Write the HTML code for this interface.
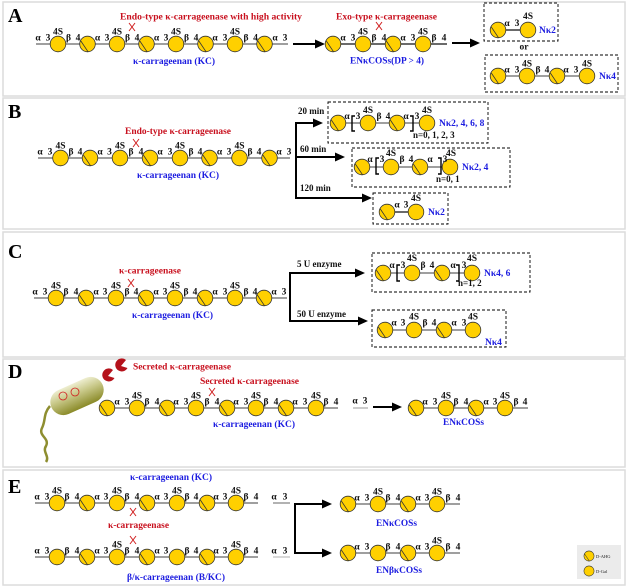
<!DOCTYPE html>
<html><head><meta charset="utf-8">
<style>
html,body{margin:0;padding:0;background:#fff;}
svg{display:block;}
.l{font:bold 9.5px "Liberation Serif",serif;text-anchor:middle;fill:#111;}
.s{font:bold 9px "Liberation Serif",serif;fill:#111;}
.r{font:bold 9.5px "Liberation Serif",serif;fill:#c8101e;}
.b{font:bold 9.5px "Liberation Serif",serif;fill:#1c1ce0;}
.P{font:bold 20px "Liberation Serif",serif;fill:#000;}
.bb{stroke:#666;stroke-width:1.2;fill:none;}
.dk{stroke:#111;stroke-width:1.2;fill:none;}
.ar{stroke:#000;stroke-width:2;fill:none;}
.bx{stroke:#000;stroke-width:0.9;stroke-dasharray:3,2;fill:none;}
.x{stroke:#d02020;stroke-width:1;}
.br{stroke:#000;stroke-width:1.4;fill:none;}
</style></head><body>
<svg width="630" height="587" viewBox="0 0 630 587" xmlns="http://www.w3.org/2000/svg">
<defs>
<g id="G"><circle r="7.8" fill="#FFD000" stroke="#333" stroke-width="0.8"/></g>
<g id="A"><circle r="7.8" fill="#FFD000" stroke="#333" stroke-width="0.8"/><path d="M-7,-3.5 L0.5,7.7" stroke="#333" stroke-width="0.8"/></g>
<g id="X"><path d="M-3,-4 L3,4 M3,-4 L-3,4" stroke="#d02020" stroke-width="1"/></g>
<linearGradient id="bac" x1="0" y1="1" x2="0" y2="0">
<stop offset="0" stop-color="#8a8a28"/><stop offset="0.6" stop-color="#c9c98a"/><stop offset="1" stop-color="#eeeed0"/></linearGradient>
</defs>

<!-- panel frames -->
<rect x="3" y="2" width="622" height="94" fill="none" stroke="#dcdcdc" stroke-width="1.5"/>
<rect x="3" y="98" width="622" height="131" fill="none" stroke="#dcdcdc" stroke-width="1.5"/>
<rect x="3" y="232" width="622" height="125" fill="none" stroke="#dcdcdc" stroke-width="1.5"/>
<rect x="3" y="359" width="622" height="108" fill="none" stroke="#dcdcdc" stroke-width="1.5"/>
<rect x="3" y="470" width="622" height="115" fill="none" stroke="#dcdcdc" stroke-width="1.5"/>

<!-- ================= PANEL A ================= -->
<text class="P" x="8" y="22">A</text>
<text class="r" x="120" y="19.5" textLength="182" lengthAdjust="spacingAndGlyphs">Endo-type κ-carrageenase with high activity</text>
<use href="#X" x="132" y="27"/>
<line class="bb" x1="36" y1="44" x2="288" y2="44"/>
<use href="#G" x="58" y="44"/><use href="#A" x="87.5" y="44"/><use href="#G" x="117" y="44"/><use href="#A" x="146.5" y="44"/>
<use href="#G" x="176" y="44"/><use href="#A" x="205.5" y="44"/><use href="#G" x="235" y="44"/><use href="#A" x="264.5" y="44"/>
<g class="l">
<text x="38" y="40.5">α</text><text x="48" y="40.5">3</text><text x="68.5" y="40.5">β</text><text x="78" y="40.5">4</text>
<text x="97.5" y="40.5">α</text><text x="107" y="40.5">3</text><text x="127.5" y="40.5">β</text><text x="137" y="40.5">4</text>
<text x="156.5" y="40.5">α</text><text x="166" y="40.5">3</text><text x="186.5" y="40.5">β</text><text x="196" y="40.5">4</text>
<text x="215" y="40.5">α</text><text x="225" y="40.5">3</text><text x="246" y="40.5">β</text><text x="255.5" y="40.5">4</text>
<text x="275" y="40.5">α</text><text x="285" y="40.5">3</text>
<text x="58" y="34.5">4S</text><text x="117" y="34.5">4S</text><text x="176" y="34.5">4S</text><text x="235" y="34.5">4S</text>
</g>
<text class="b" x="133" y="64" textLength="82" lengthAdjust="spacingAndGlyphs">κ-carrageenan (KC)</text>
<line class="ar" x1="293" y1="44" x2="318" y2="44"/><polygon points="325,44 315,39.5 315,48.5" fill="#000"/>

<text class="r" x="336" y="19.5" textLength="101" lengthAdjust="spacingAndGlyphs">Exo-type κ-carrageenase</text>
<use href="#X" x="379" y="26"/>
<line class="dk" x1="333" y1="44" x2="447" y2="44"/>
<use href="#A" x="333" y="44"/><use href="#G" x="363" y="44"/><use href="#A" x="393" y="44"/><use href="#G" x="423" y="44"/>
<g class="l">
<text x="343" y="40.5">α</text><text x="353" y="40.5">3</text><text x="374" y="40.5">β</text><text x="384" y="40.5">4</text>
<text x="403" y="40.5">α</text><text x="413" y="40.5">3</text><text x="434" y="40.5">β</text><text x="444" y="40.5">4</text>
<text x="363" y="34.5">4S</text><text x="423" y="34.5">4S</text>
</g>
<text class="b" x="350" y="63.5" textLength="74" lengthAdjust="spacingAndGlyphs">ENκCOSs(DP &gt; 4)</text>
<line class="ar" x1="452" y1="43" x2="473" y2="43"/><polygon points="480,43 470,38.5 470,47.5" fill="#000"/>

<rect class="bx" x="484" y="3" width="74" height="38"/>
<line class="dk" x1="498" y1="30" x2="528" y2="30"/>
<use href="#A" x="498" y="30"/><use href="#G" x="528" y="30"/>
<g class="l"><text x="507" y="26">α</text><text x="517" y="26">3</text><text x="528" y="19">4S</text></g>
<text class="b" x="539" y="33">Nκ2</text>
<text class="l" x="524" y="49.5">or</text>
<rect class="bx" x="485" y="55" width="133" height="37"/>
<line class="bb" x1="498" y1="76" x2="587" y2="76"/>
<use href="#A" x="498" y="76"/><use href="#G" x="527" y="76"/><use href="#A" x="557" y="76"/><use href="#G" x="587" y="76"/>
<g class="l"><text x="507" y="72.5">α</text><text x="517" y="72.5">3</text><text x="538" y="72.5">β</text><text x="547" y="72.5">4</text>
<text x="566" y="72.5">α</text><text x="576" y="72.5">3</text><text x="527" y="66.5">4S</text><text x="587" y="66.5">4S</text></g>
<text class="b" x="599" y="79">Nκ4</text>

<!-- ================= PANEL B ================= -->
<text class="P" x="8" y="118">B</text>
<text class="r" x="125" y="134" textLength="106" lengthAdjust="spacingAndGlyphs">Endo-type κ-carrageenase</text>
<use href="#X" x="136" y="143"/>
<line class="bb" x1="38" y1="158" x2="290" y2="158"/>
<use href="#G" x="60.5" y="158"/><use href="#A" x="90" y="158"/><use href="#G" x="120" y="158"/><use href="#A" x="150" y="158"/>
<use href="#G" x="180" y="158"/><use href="#A" x="209.5" y="158"/><use href="#G" x="239.5" y="158"/><use href="#A" x="269.5" y="158"/>
<g class="l">
<text x="40" y="154.5">α</text><text x="50" y="154.5">3</text><text x="71" y="154.5">β</text><text x="80" y="154.5">4</text>
<text x="100" y="154.5">α</text><text x="109.5" y="154.5">3</text><text x="131" y="154.5">β</text><text x="141" y="154.5">4</text>
<text x="160" y="154.5">α</text><text x="170" y="154.5">3</text><text x="191" y="154.5">β</text><text x="200" y="154.5">4</text>
<text x="219.5" y="154.5">α</text><text x="229" y="154.5">3</text><text x="250" y="154.5">β</text><text x="259" y="154.5">4</text>
<text x="279" y="154.5">α</text><text x="289" y="154.5">3</text>
<text x="60.5" y="148.5">4S</text><text x="120" y="148.5">4S</text><text x="180" y="148.5">4S</text><text x="239.5" y="148.5">4S</text>
</g>
<text class="b" x="137" y="178" textLength="82" lengthAdjust="spacingAndGlyphs">κ-carrageenan (KC)</text>

<path class="ar" d="M296,123 L296,198"/>
<line class="ar" x1="295" y1="123" x2="316" y2="123"/><polygon points="323,123 313,118.5 313,127.5" fill="#000"/>
<line class="ar" x1="295" y1="157" x2="338" y2="157"/><polygon points="345,157 335,152.5 335,161.5" fill="#000"/>
<line class="ar" x1="295" y1="198" x2="365" y2="198"/><polygon points="372,198 362,193.5 362,202.5" fill="#000"/>
<text class="s" x="298" y="114">20 min</text>
<text class="s" x="300" y="152">60 min</text>
<text class="s" x="300" y="191">120 min</text>

<rect class="bx" x="328" y="102" width="160" height="41"/>
<line class="bb" x1="338" y1="123" x2="427" y2="123"/>
<use href="#A" x="338" y="123"/><use href="#G" x="368" y="123"/><use href="#A" x="397" y="123"/><use href="#G" x="427" y="123"/>
<path class="br" d="M355,116 L352,116 L352,131 L355,131"/><path class="br" d="M410,116 L413,116 L413,131 L410,131"/>
<g class="l"><text x="347" y="119">α</text><text x="358" y="119">3</text><text x="379" y="119">β</text><text x="388" y="119">4</text>
<text x="406" y="119">α</text><text x="417" y="119">3</text><text x="368" y="113">4S</text><text x="427" y="113">4S</text></g>
<text class="b" x="439" y="126">Nκ2, 4, 6, 8</text>
<text class="s" x="413" y="138">n=0, 1, 2, 3</text>

<rect class="bx" x="352" y="148" width="158" height="39"/>
<line class="bb" x1="362" y1="167" x2="450" y2="167"/>
<use href="#A" x="362" y="167"/><use href="#G" x="391" y="167"/><use href="#A" x="420" y="167"/><use href="#G" x="450" y="167"/>
<path class="br" d="M379,158 L376,158 L376,174 L379,174"/><path class="br" d="M438,158 L441,158 L441,174 L438,174"/>
<g class="l"><text x="370" y="162">α</text><text x="382" y="162">3</text><text x="402" y="162">β</text><text x="411" y="162">4</text>
<text x="430" y="162">α</text><text x="445" y="162">3</text><text x="391" y="156">4S</text><text x="451" y="156">4S</text></g>
<text class="b" x="462" y="170">Nκ2, 4</text>
<text class="s" x="436" y="182">n=0, 1</text>

<rect class="bx" x="373" y="193" width="75" height="31"/>
<line class="dk" x1="387" y1="212" x2="416" y2="212"/>
<use href="#A" x="387" y="212"/><use href="#G" x="416" y="212"/>
<g class="l"><text x="397" y="207.5">α</text><text x="406" y="207.5">3</text><text x="416" y="201">4S</text></g>
<text class="b" x="428" y="215">Nκ2</text>

<!-- ================= PANEL C ================= -->
<text class="P" x="8" y="258">C</text>
<text class="r" x="119" y="273.5" textLength="62" lengthAdjust="spacingAndGlyphs">κ-carrageenase</text>
<use href="#X" x="131" y="283"/>
<line class="bb" x1="34" y1="298" x2="287" y2="298"/>
<use href="#G" x="56" y="298"/><use href="#A" x="86" y="298"/><use href="#G" x="116" y="298"/><use href="#A" x="146" y="298"/>
<use href="#G" x="175" y="298"/><use href="#A" x="205" y="298"/><use href="#G" x="235" y="298"/><use href="#A" x="264" y="298"/>
<g class="l">
<text x="35" y="294.5">α</text><text x="45" y="294.5">3</text><text x="66" y="294.5">β</text><text x="76" y="294.5">4</text>
<text x="96" y="294.5">α</text><text x="105" y="294.5">3</text><text x="127" y="294.5">β</text><text x="136" y="294.5">4</text>
<text x="156" y="294.5">α</text><text x="165" y="294.5">3</text><text x="186" y="294.5">β</text><text x="195" y="294.5">4</text>
<text x="215" y="294.5">α</text><text x="225" y="294.5">3</text><text x="246" y="294.5">β</text><text x="255" y="294.5">4</text>
<text x="274" y="294.5">α</text><text x="284" y="294.5">3</text>
<text x="56" y="288.5">4S</text><text x="116" y="288.5">4S</text><text x="175" y="288.5">4S</text><text x="235" y="288.5">4S</text>
</g>
<text class="b" x="132" y="318" textLength="81" lengthAdjust="spacingAndGlyphs">κ-carrageenan (KC)</text>

<path class="ar" d="M290,273 L290,321"/>
<line class="ar" x1="289" y1="273" x2="358" y2="273"/><polygon points="365,273 355,268.5 355,277.5" fill="#000"/>
<line class="ar" x1="289" y1="321" x2="361" y2="321"/><polygon points="368,321 358,316.5 358,325.5" fill="#000"/>
<text class="s" x="297" y="267">5 U enzyme</text>
<text class="s" x="297" y="317">50 U enzyme</text>

<rect class="bx" x="372" y="253" width="158" height="39"/>
<line class="bb" x1="383" y1="273" x2="472" y2="273"/>
<use href="#A" x="383" y="273"/><use href="#G" x="412" y="273"/><use href="#A" x="442" y="273"/><use href="#G" x="472" y="273"/>
<path class="br" d="M400,265 L397,265 L397,281 L400,281"/><path class="br" d="M456,265 L459,265 L459,281 L456,281"/>
<g class="l"><text x="392" y="268">α</text><text x="403" y="268">3</text><text x="423" y="268">β</text><text x="432" y="268">4</text>
<text x="453" y="268">α</text><text x="464" y="268">3</text><text x="412" y="261">4S</text><text x="472" y="261">4S</text></g>
<text class="b" x="484" y="276">Nκ4, 6</text>
<text class="s" x="458" y="286">n=1, 2</text>

<rect class="bx" x="372" y="310" width="134" height="37"/>
<line class="bb" x1="385" y1="330" x2="473" y2="330"/>
<use href="#A" x="385" y="330"/><use href="#G" x="414" y="330"/><use href="#A" x="444" y="330"/><use href="#G" x="473" y="330"/>
<g class="l"><text x="394" y="325.5">α</text><text x="403" y="325.5">3</text><text x="425" y="325.5">β</text><text x="434" y="325.5">4</text>
<text x="454" y="325.5">α</text><text x="464" y="325.5">3</text><text x="414" y="319.5">4S</text><text x="473" y="319.5">4S</text></g>
<text class="b" x="485" y="345">Nκ4</text>

<!-- ================= PANEL D ================= -->
<text class="P" x="8" y="378">D</text>
<path d="M50,406 C43,414 46,420 42,428 C38,436 50,438 46,446 C42,452 50,456 46,462" stroke="#8e8e30" stroke-width="2.5" fill="none"/>
<g transform="translate(77,396) rotate(-24)">
<rect x="-28" y="-13" width="56" height="26" rx="13" fill="url(#bac)"/>
</g>
<circle cx="63" cy="396" r="4" fill="none" stroke="#d02020" stroke-width="0.8"/>
<circle cx="75" cy="392" r="4" fill="none" stroke="#d02020" stroke-width="0.8"/>
<path d="M108,376 L113,370 A6.5,6.5 0 1 0 114.5,378 Z" fill="#b5121b"/>
<path d="M121,366 L126,360 A6.5,6.5 0 1 0 127.5,368 Z" fill="#b5121b"/>
<text class="r" x="133" y="369.5" textLength="98" lengthAdjust="spacingAndGlyphs">Secreted κ-carrageenase</text>
<text class="r" x="200" y="384" textLength="99" lengthAdjust="spacingAndGlyphs">Secreted κ-carrageenase</text>
<use href="#X" x="212" y="392"/>
<line class="bb" x1="100" y1="408" x2="338" y2="408"/>
<use href="#A" x="107" y="408"/><use href="#G" x="137" y="408"/><use href="#A" x="167" y="408"/><use href="#G" x="196" y="408"/>
<use href="#A" x="227" y="408"/><use href="#G" x="256" y="408"/><use href="#A" x="286" y="408"/><use href="#G" x="316" y="408"/>
<g class="l">
<text x="117" y="404.5">α</text><text x="127" y="404.5">3</text><text x="147" y="404.5">β</text><text x="157" y="404.5">4</text>
<text x="176" y="404.5">α</text><text x="186" y="404.5">3</text><text x="207" y="404.5">β</text><text x="217" y="404.5">4</text>
<text x="236" y="404.5">α</text><text x="246" y="404.5">3</text><text x="266" y="404.5">β</text><text x="276" y="404.5">4</text>
<text x="295" y="404.5">α</text><text x="305" y="404.5">3</text><text x="326" y="404.5">β</text><text x="336" y="404.5">4</text>
<text x="137" y="398.5">4S</text><text x="196" y="398.5">4S</text><text x="256" y="398.5">4S</text><text x="316" y="398.5">4S</text>
<text x="355" y="403.5">α</text><text x="365" y="403.5">3</text>
</g>
<text class="b" x="213" y="427" textLength="82" lengthAdjust="spacingAndGlyphs">κ-carrageenan (KC)</text>
<line x1="353" y1="408" x2="368" y2="408" stroke="#bbb" stroke-width="1.5"/>
<line class="ar" x1="373" y1="407" x2="395" y2="407"/><polygon points="402,407 392,402.5 392,411.5" fill="#000"/>
<line class="bb" x1="416" y1="408" x2="528" y2="408"/>
<use href="#A" x="416" y="408"/><use href="#G" x="446" y="408"/><use href="#A" x="476" y="408"/><use href="#G" x="505" y="408"/>
<g class="l"><text x="425" y="404.5">α</text><text x="435" y="404.5">3</text><text x="456" y="404.5">β</text><text x="466" y="404.5">4</text>
<text x="486" y="404.5">α</text><text x="495" y="404.5">3</text><text x="516" y="404.5">β</text><text x="525" y="404.5">4</text>
<text x="446" y="398.5">4S</text><text x="505" y="398.5">4S</text></g>
<text class="b" x="443" y="425" textLength="41" lengthAdjust="spacingAndGlyphs">ENκCOSs</text>

<!-- ================= PANEL E ================= -->
<text class="P" x="8" y="493">E</text>
<text class="b" x="130" y="480" textLength="82" lengthAdjust="spacingAndGlyphs">κ-carrageenan (KC)</text>
<line class="bb" x1="35" y1="503" x2="258" y2="503"/>
<use href="#G" x="57" y="503"/><use href="#A" x="87" y="503"/><use href="#G" x="117" y="503"/><use href="#A" x="147" y="503"/>
<use href="#G" x="177" y="503"/><use href="#A" x="207" y="503"/><use href="#G" x="236" y="503"/>
<g class="l">
<text x="37" y="499.5">α</text><text x="47" y="499.5">3</text><text x="67" y="499.5">β</text><text x="77" y="499.5">4</text>
<text x="97" y="499.5">α</text><text x="106" y="499.5">3</text><text x="127" y="499.5">β</text><text x="137" y="499.5">4</text>
<text x="157" y="499.5">α</text><text x="166" y="499.5">3</text><text x="187" y="499.5">β</text><text x="196" y="499.5">4</text>
<text x="216" y="499.5">α</text><text x="225" y="499.5">3</text><text x="246" y="499.5">β</text><text x="256" y="499.5">4</text>
<text x="57" y="493.5">4S</text><text x="117" y="493.5">4S</text><text x="177" y="493.5">4S</text><text x="236" y="493.5">4S</text>
<text x="274" y="499.5">α</text><text x="285" y="499.5">3</text>
</g>
<line x1="273" y1="503" x2="290" y2="503" stroke="#999" stroke-width="1.5"/>
<use href="#X" x="133" y="512"/>
<text class="r" x="108" y="528" textLength="61" lengthAdjust="spacingAndGlyphs">κ-carrageenase</text>
<use href="#X" x="133" y="540"/>
<line class="bb" x1="35" y1="557" x2="258" y2="557"/>
<use href="#G" x="57" y="557"/><use href="#A" x="87" y="557"/><use href="#G" x="117" y="557"/><use href="#A" x="147" y="557"/>
<use href="#G" x="177" y="557"/><use href="#A" x="207" y="557"/><use href="#G" x="236" y="557"/>
<g class="l">
<text x="37" y="553.5">α</text><text x="47" y="553.5">3</text><text x="67" y="553.5">β</text><text x="77" y="553.5">4</text>
<text x="97" y="553.5">α</text><text x="106" y="553.5">3</text><text x="127" y="553.5">β</text><text x="137" y="553.5">4</text>
<text x="157" y="553.5">α</text><text x="166" y="553.5">3</text><text x="187" y="553.5">β</text><text x="196" y="553.5">4</text>
<text x="216" y="553.5">α</text><text x="225" y="553.5">3</text><text x="246" y="553.5">β</text><text x="256" y="553.5">4</text>
<text x="117" y="547.5">4S</text><text x="236" y="547.5">4S</text>
<text x="274" y="553.5">α</text><text x="285" y="553.5">3</text>
</g>
<line x1="273" y1="557" x2="290" y2="557" stroke="#ccc" stroke-width="1.5"/>
<text class="b" x="127" y="580" textLength="98" lengthAdjust="spacingAndGlyphs">β/κ-carrageenan (B/KC)</text>

<path class="ar" d="M295,504 L295,553"/>
<line class="ar" x1="294" y1="504" x2="325" y2="504"/><polygon points="332,504 322,499.5 322,508.5" fill="#000"/>
<line class="ar" x1="294" y1="553" x2="325" y2="553"/><polygon points="332,553 322,548.5 322,557.5" fill="#000"/>

<line class="bb" x1="348" y1="504" x2="460" y2="504"/>
<use href="#A" x="348" y="504"/><use href="#G" x="378" y="504"/><use href="#A" x="408" y="504"/><use href="#G" x="437" y="504"/>
<g class="l"><text x="357" y="500.5">α</text><text x="367" y="500.5">3</text><text x="388" y="500.5">β</text><text x="398" y="500.5">4</text>
<text x="418" y="500.5">α</text><text x="427" y="500.5">3</text><text x="448" y="500.5">β</text><text x="458" y="500.5">4</text>
<text x="378" y="494.5">4S</text><text x="437" y="494.5">4S</text></g>
<text class="b" x="376" y="526" textLength="41" lengthAdjust="spacingAndGlyphs">ENκCOSs</text>

<line class="bb" x1="348" y1="553" x2="460" y2="553"/>
<use href="#A" x="348" y="553"/><use href="#G" x="378" y="553"/><use href="#A" x="408" y="553"/><use href="#G" x="437" y="553"/>
<g class="l"><text x="357" y="549.5">α</text><text x="367" y="549.5">3</text><text x="388" y="549.5">β</text><text x="398" y="549.5">4</text>
<text x="418" y="549.5">α</text><text x="427" y="549.5">3</text><text x="448" y="549.5">β</text><text x="458" y="549.5">4</text>
<text x="437" y="543.5">4S</text></g>
<text class="b" x="376" y="573" textLength="46" lengthAdjust="spacingAndGlyphs">ENβκCOSs</text>

<!-- legend -->
<rect x="577" y="545" width="44" height="34" fill="#ebebeb"/>
<g transform="translate(589,556) scale(0.65)"><use href="#A"/></g>
<g transform="translate(589,571) scale(0.65)"><use href="#G"/></g>
<text x="596" y="558" style="font:4.5px 'Liberation Serif',serif;fill:#222">D-AHG</text>
<text x="596" y="573" style="font:4.5px 'Liberation Serif',serif;fill:#222">D-Gal</text>
</svg>
</body></html>
